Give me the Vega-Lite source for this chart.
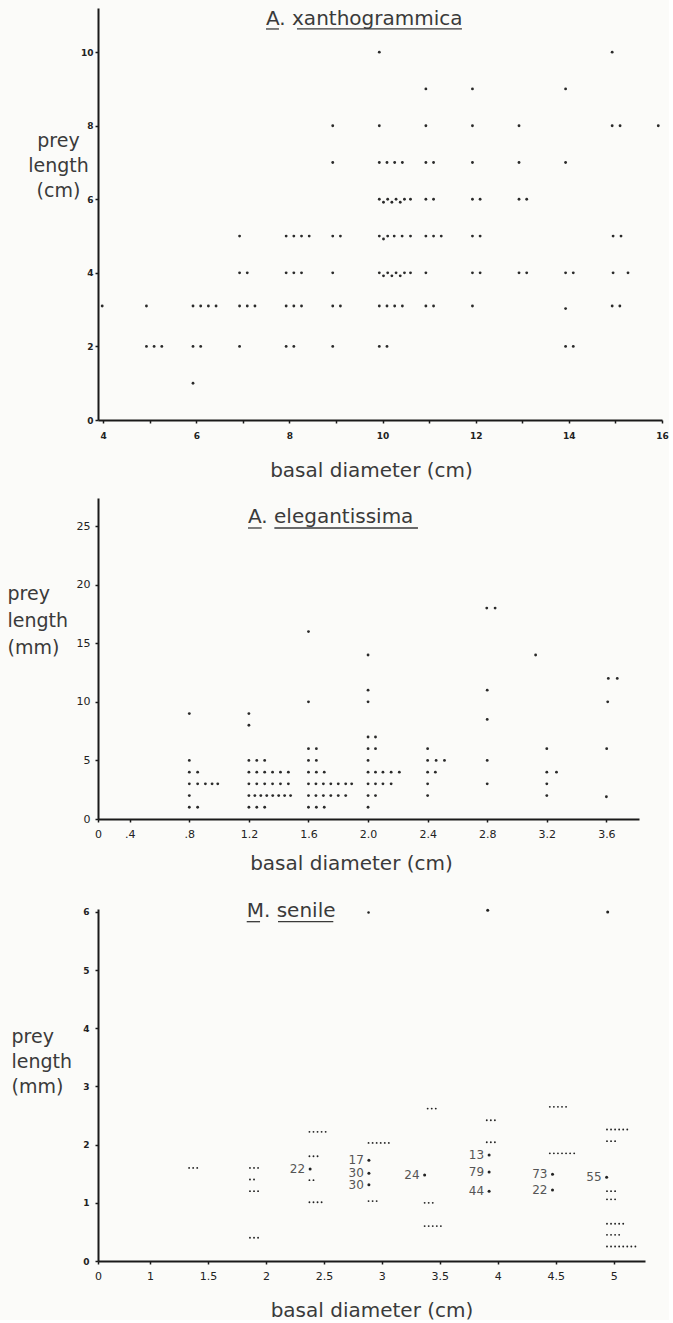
{
  "$schema": "https://vega.github.io/schema/vega-lite/v6.json",
  "background": "#fbfbf9",
  "padding": {"left": 7, "top": 8, "right": 0, "bottom": 0},
  "config": {
    "view": {"stroke": null},
    "axis": {"grid": false, "domainColor": "#1a1a1a", "domainWidth": 2, "tickColor": "#1a1a1a", "tickWidth": 1.5, "tickSize": 3, "labelFont": "DejaVu Sans", "titleFont": "DejaVu Sans", "labelColor": "#222222", "titleColor": "#3a3a3a", "titleFontWeight": "normal", "titleFontSize": 19, "labelFlush": false, "labelOverlap": false}
  },
  "datasets": {
    "p1": [
      {"d":9.93,"len":10},{"d":14.93,"len":10},
      {"d":10.93,"len":9},{"d":11.93,"len":9},{"d":13.93,"len":9},
      {"d":8.93,"len":8},{"d":9.93,"len":8},{"d":10.93,"len":8},{"d":11.93,"len":8},{"d":12.93,"len":8},{"d":14.93,"len":8},{"d":15.1,"len":8},{"d":15.92,"len":8},
      {"d":8.93,"len":7},{"d":9.93,"len":7},{"d":10.095,"len":7},{"d":10.26,"len":7},{"d":10.425,"len":7},{"d":10.93,"len":7},{"d":11.095,"len":7},{"d":11.93,"len":7},{"d":12.93,"len":7},{"d":13.93,"len":7},
      {"d":9.93,"len":6},{"d":10.02,"len":5.92},{"d":10.11,"len":6},{"d":10.2,"len":5.92},{"d":10.29,"len":6},{"d":10.38,"len":5.92},{"d":10.47,"len":6},{"d":10.6,"len":6},{"d":10.93,"len":6},{"d":11.095,"len":6},{"d":11.93,"len":6},{"d":12.095,"len":6},{"d":12.93,"len":6},{"d":13.095,"len":6},
      {"d":6.93,"len":5},{"d":7.93,"len":5},{"d":8.095,"len":5},{"d":8.26,"len":5},{"d":8.425,"len":5},{"d":8.93,"len":5},{"d":9.095,"len":5},{"d":9.93,"len":5},{"d":10.02,"len":4.92},{"d":10.11,"len":5},{"d":10.25,"len":5},{"d":10.42,"len":5},{"d":10.6,"len":5},{"d":10.93,"len":5},{"d":11.095,"len":5},{"d":11.26,"len":5},{"d":11.93,"len":5},{"d":12.095,"len":5},{"d":14.95,"len":5},{"d":15.12,"len":5},
      {"d":6.93,"len":4},{"d":7.095,"len":4},{"d":7.93,"len":4},{"d":8.095,"len":4},{"d":8.26,"len":4},{"d":8.93,"len":4},{"d":9.93,"len":4},{"d":10.02,"len":3.92},{"d":10.11,"len":4},{"d":10.2,"len":3.92},{"d":10.29,"len":4},{"d":10.38,"len":3.92},{"d":10.47,"len":4},{"d":10.6,"len":4},{"d":10.93,"len":4},{"d":11.93,"len":4},{"d":12.095,"len":4},{"d":12.93,"len":4},{"d":13.095,"len":4},{"d":13.93,"len":4},{"d":14.095,"len":4},{"d":14.95,"len":4},{"d":15.27,"len":4},
      {"d":3.98,"len":3.1},{"d":4.93,"len":3.1},{"d":5.93,"len":3.1},{"d":6.095,"len":3.1},{"d":6.26,"len":3.1},{"d":6.425,"len":3.1},{"d":6.93,"len":3.1},{"d":7.095,"len":3.1},{"d":7.26,"len":3.1},{"d":7.93,"len":3.1},{"d":8.095,"len":3.1},{"d":8.26,"len":3.1},{"d":8.93,"len":3.1},{"d":9.095,"len":3.1},{"d":9.93,"len":3.1},{"d":10.095,"len":3.1},{"d":10.26,"len":3.1},{"d":10.425,"len":3.1},{"d":10.93,"len":3.1},{"d":11.095,"len":3.1},{"d":11.93,"len":3.1},{"d":13.93,"len":3.03},{"d":14.93,"len":3.1},{"d":15.095,"len":3.1},
      {"d":4.93,"len":2},{"d":5.095,"len":2},{"d":5.26,"len":2},{"d":5.93,"len":2},{"d":6.095,"len":2},{"d":6.93,"len":2},{"d":7.93,"len":2},{"d":8.095,"len":2},{"d":8.93,"len":2},{"d":9.93,"len":2},{"d":10.095,"len":2},{"d":13.93,"len":2},{"d":14.095,"len":2},
      {"d":5.93,"len":1}
    ],
    "p2": [
      {"d":0.8,"len":9},{"d":0.8,"len":5},{"d":0.8,"len":4},{"d":0.856,"len":4},{"d":0.8,"len":3},{"d":0.856,"len":3},{"d":0.908,"len":3},{"d":0.953,"len":3},{"d":0.991,"len":3},{"d":0.8,"len":2},{"d":0.8,"len":1},{"d":0.856,"len":1},
      {"d":1.2,"len":9},{"d":1.2,"len":8},{"d":1.2,"len":5},{"d":1.253,"len":5},{"d":1.306,"len":5},
      {"d":1.2,"len":4},{"d":1.253,"len":4},{"d":1.306,"len":4},{"d":1.359,"len":4},{"d":1.412,"len":4},{"d":1.465,"len":4},
      {"d":1.2,"len":3},{"d":1.253,"len":3},{"d":1.306,"len":3},{"d":1.359,"len":3},{"d":1.412,"len":3},{"d":1.465,"len":3},
      {"d":1.2,"len":2},{"d":1.24,"len":2},{"d":1.28,"len":2},{"d":1.32,"len":2},{"d":1.36,"len":2},{"d":1.4,"len":2},{"d":1.44,"len":2},{"d":1.48,"len":2},
      {"d":1.2,"len":1},{"d":1.253,"len":1},{"d":1.306,"len":1},
      {"d":1.6,"len":16},{"d":1.6,"len":10},{"d":1.6,"len":6},{"d":1.653,"len":6},{"d":1.6,"len":5},{"d":1.653,"len":5},{"d":1.6,"len":4},{"d":1.653,"len":4},{"d":1.706,"len":4},
      {"d":1.6,"len":3},{"d":1.65,"len":3},{"d":1.7,"len":3},{"d":1.75,"len":3},{"d":1.8,"len":3},{"d":1.85,"len":3},{"d":1.89,"len":3},
      {"d":1.6,"len":2},{"d":1.65,"len":2},{"d":1.7,"len":2},{"d":1.75,"len":2},{"d":1.8,"len":2},{"d":1.85,"len":2},
      {"d":1.6,"len":1},{"d":1.653,"len":1},{"d":1.706,"len":1},
      {"d":2.0,"len":14},{"d":2.0,"len":11},{"d":2.0,"len":10},{"d":2.0,"len":7},{"d":2.05,"len":7},{"d":2.0,"len":6},{"d":2.05,"len":6},{"d":2.0,"len":5},
      {"d":2.0,"len":4},{"d":2.05,"len":4},{"d":2.1,"len":4},{"d":2.155,"len":4},{"d":2.21,"len":4},
      {"d":2.0,"len":3},{"d":2.05,"len":3},{"d":2.1,"len":3},{"d":2.155,"len":3},
      {"d":2.0,"len":2},{"d":2.05,"len":2},{"d":2.0,"len":1},
      {"d":2.4,"len":6},{"d":2.4,"len":5},{"d":2.457,"len":5},{"d":2.513,"len":5},{"d":2.4,"len":4},{"d":2.452,"len":4},{"d":2.4,"len":3},{"d":2.4,"len":2},
      {"d":2.797,"len":18},{"d":2.853,"len":18},{"d":2.8,"len":11},{"d":2.8,"len":8.5},{"d":2.8,"len":5},{"d":2.8,"len":3},
      {"d":3.125,"len":14},
      {"d":3.2,"len":6},{"d":3.2,"len":4},{"d":3.265,"len":4},{"d":3.2,"len":3},{"d":3.2,"len":2},
      {"d":3.613,"len":12},{"d":3.673,"len":12},{"d":3.609,"len":10},{"d":3.602,"len":6},{"d":3.6,"len":1.9}
    ],
    "p3": [
      {"d":1.337,"len":1.6,"kind":"dash"},{"d":1.372,"len":1.6,"kind":"dash"},{"d":1.407,"len":1.6,"kind":"dash"},
      {"d":1.862,"len":1.6,"kind":"dash"},{"d":1.897,"len":1.6,"kind":"dash"},{"d":1.932,"len":1.6,"kind":"dash"},
      {"d":1.862,"len":1.4,"kind":"dash"},{"d":1.897,"len":1.4,"kind":"dash"},
      {"d":1.862,"len":1.2,"kind":"dash"},{"d":1.897,"len":1.2,"kind":"dash"},{"d":1.932,"len":1.2,"kind":"dash"},
      {"d":1.862,"len":0.4,"kind":"dash"},{"d":1.897,"len":0.4,"kind":"dash"},{"d":1.932,"len":0.4,"kind":"dash"},
      {"d":2.375,"len":2.22,"kind":"dash"},{"d":2.41,"len":2.22,"kind":"dash"},{"d":2.445,"len":2.22,"kind":"dash"},{"d":2.48,"len":2.22,"kind":"dash"},{"d":2.515,"len":2.22,"kind":"dash"},
      {"d":2.375,"len":1.8,"kind":"dash"},{"d":2.41,"len":1.8,"kind":"dash"},{"d":2.445,"len":1.8,"kind":"dash"},
      {"d":2.381,"len":1.58,"kind":"count","n":"22"},
      {"d":2.375,"len":1.39,"kind":"dash"},{"d":2.41,"len":1.39,"kind":"dash"},
      {"d":2.375,"len":1.01,"kind":"dash"},{"d":2.41,"len":1.01,"kind":"dash"},{"d":2.445,"len":1.01,"kind":"dash"},{"d":2.48,"len":1.01,"kind":"dash"},
      {"d":2.885,"len":2.03,"kind":"dash"},{"d":2.92,"len":2.03,"kind":"dash"},{"d":2.955,"len":2.03,"kind":"dash"},{"d":2.99,"len":2.03,"kind":"dash"},{"d":3.025,"len":2.03,"kind":"dash"},{"d":3.06,"len":2.03,"kind":"dash"},
      {"d":2.888,"len":1.73,"kind":"count","n":"17"},{"d":2.888,"len":1.51,"kind":"count","n":"30"},{"d":2.888,"len":1.31,"kind":"count","n":"30"},
      {"d":2.885,"len":1.03,"kind":"dash"},{"d":2.92,"len":1.03,"kind":"dash"},{"d":2.955,"len":1.03,"kind":"dash"},
      {"d":2.885,"len":5.99,"kind":"dot"},
      {"d":3.395,"len":2.62,"kind":"dash"},{"d":3.43,"len":2.62,"kind":"dash"},{"d":3.465,"len":2.62,"kind":"dash"},
      {"d":3.369,"len":1.48,"kind":"count","n":"24"},
      {"d":3.369,"len":1.0,"kind":"dash"},{"d":3.404,"len":1.0,"kind":"dash"},{"d":3.439,"len":1.0,"kind":"dash"},
      {"d":3.369,"len":0.6,"kind":"dash"},{"d":3.404,"len":0.6,"kind":"dash"},{"d":3.439,"len":0.6,"kind":"dash"},{"d":3.474,"len":0.6,"kind":"dash"},{"d":3.509,"len":0.6,"kind":"dash"},
      {"d":3.905,"len":2.42,"kind":"dash"},{"d":3.94,"len":2.42,"kind":"dash"},{"d":3.975,"len":2.42,"kind":"dash"},
      {"d":3.905,"len":2.04,"kind":"dash"},{"d":3.94,"len":2.04,"kind":"dash"},{"d":3.975,"len":2.04,"kind":"dash"},
      {"d":3.925,"len":1.82,"kind":"count","n":"13"},{"d":3.925,"len":1.53,"kind":"count","n":"79"},{"d":3.925,"len":1.2,"kind":"count","n":"44"},
      {"d":3.913,"len":6.03,"kind":"count"},
      {"d":4.449,"len":2.65,"kind":"dash"},{"d":4.484,"len":2.65,"kind":"dash"},{"d":4.519,"len":2.65,"kind":"dash"},{"d":4.554,"len":2.65,"kind":"dash"},{"d":4.589,"len":2.65,"kind":"dash"},
      {"d":4.449,"len":1.85,"kind":"dash"},{"d":4.484,"len":1.85,"kind":"dash"},{"d":4.519,"len":1.85,"kind":"dash"},{"d":4.554,"len":1.85,"kind":"dash"},{"d":4.589,"len":1.85,"kind":"dash"},{"d":4.624,"len":1.85,"kind":"dash"},{"d":4.659,"len":1.85,"kind":"dash"},
      {"d":4.472,"len":1.49,"kind":"count","n":"73"},{"d":4.472,"len":1.22,"kind":"count","n":"22"},
      {"d":4.942,"len":2.26,"kind":"dash"},{"d":4.977,"len":2.26,"kind":"dash"},{"d":5.012,"len":2.26,"kind":"dash"},{"d":5.047,"len":2.26,"kind":"dash"},{"d":5.082,"len":2.26,"kind":"dash"},{"d":5.117,"len":2.26,"kind":"dash"},
      {"d":4.942,"len":2.06,"kind":"dash"},{"d":4.977,"len":2.06,"kind":"dash"},{"d":5.012,"len":2.06,"kind":"dash"},
      {"d":4.939,"len":1.44,"kind":"count","n":"55"},
      {"d":4.942,"len":1.2,"kind":"dash"},{"d":4.977,"len":1.2,"kind":"dash"},{"d":5.012,"len":1.2,"kind":"dash"},
      {"d":4.942,"len":1.06,"kind":"dash"},{"d":4.977,"len":1.06,"kind":"dash"},{"d":5.012,"len":1.06,"kind":"dash"},
      {"d":4.942,"len":0.64,"kind":"dash"},{"d":4.977,"len":0.64,"kind":"dash"},{"d":5.012,"len":0.64,"kind":"dash"},{"d":5.047,"len":0.64,"kind":"dash"},{"d":5.082,"len":0.64,"kind":"dash"},
      {"d":4.942,"len":0.45,"kind":"dash"},{"d":4.977,"len":0.45,"kind":"dash"},{"d":5.012,"len":0.45,"kind":"dash"},{"d":5.047,"len":0.45,"kind":"dash"},
      {"d":4.942,"len":0.25,"kind":"dash"},{"d":4.977,"len":0.25,"kind":"dash"},{"d":5.012,"len":0.25,"kind":"dash"},{"d":5.047,"len":0.25,"kind":"dash"},{"d":5.082,"len":0.25,"kind":"dash"},{"d":5.117,"len":0.25,"kind":"dash"},{"d":5.152,"len":0.25,"kind":"dash"},{"d":5.187,"len":0.25,"kind":"dash"},
      {"d":4.948,"len":6.0,"kind":"count"}
    ]
  },
  "spacing": 27,
  "vconcat": [
    {
      "spacing": 18,
      "vconcat": [
        {
          "width": 564,
          "height": 412,
          "layer": [
            {
              "data": {"name": "p1"},
              "mark": {"type": "circle", "size": 8, "color": "#2a2a2a", "opacity": 1},
              "encoding": {
                "x": {"field": "d", "type": "quantitative", "scale": {"domain": [3.89, 16], "nice": false, "zero": false},
                  "axis": {"title": "basal  diameter  (cm)", "values": [4,5,6,7,8,9,10,11,12,13,14,15,16], "labelExpr": "datum.value % 2 == 0 ? datum.label : ''", "labelFontSize": 9, "labelFontWeight": "bold", "labelPadding": 8, "titleFontSize": 20, "titlePadding": 20, "titleX": 273}},
                "y": {"field": "len", "type": "quantitative", "scale": {"domain": [0, 11.2], "nice": false},
                  "axis": {"title": ["prey", "length", "(cm)"], "values": [0,1,2,3,4,5,6,7,8,9,10,11], "labelExpr": "datum.value % 2 == 0 ? datum.label : ''", "labelFontSize": 9, "labelFontWeight": "bold", "labelPadding": 2, "titleAngle": 0, "titleAlign": "center", "titleBaseline": "alphabetic", "titleX": -40, "titleY": 138, "titleLineHeight": 25}}
              }
            },
            {
              "data": {"values": [{}]},
              "mark": {"type": "text", "text": "A. xanthogrammica", "align": "left", "baseline": "alphabetic", "font": "DejaVu Sans", "fontSize": 20, "color": "#3a3a3a"},
              "encoding": {"x": {"datum": 7.497, "type": "quantitative"}, "y": {"datum": 10.74, "type": "quantitative"}}
            },
            {
              "data": {"values": [{}]},
              "mark": {"type": "rule", "color": "#3a3a3a", "strokeWidth": 1.3},
              "encoding": {"x": {"datum": 7.497, "type": "quantitative"}, "x2": {"datum": 7.776}, "y": {"datum": 10.63, "type": "quantitative"}}
            },
            {
              "data": {"values": [{}]},
              "mark": {"type": "rule", "color": "#3a3a3a", "strokeWidth": 1.3},
              "encoding": {"x": {"datum": 8.162, "type": "quantitative"}, "x2": {"datum": 11.704}, "y": {"datum": 10.63, "type": "quantitative"}}
            }
          ]
        },
        {
          "width": 541,
          "height": 321,
          "layer": [
            {
              "data": {"name": "p2"},
              "mark": {"type": "circle", "size": 8, "color": "#2a2a2a", "opacity": 1},
              "encoding": {
                "x": {"field": "d", "type": "quantitative", "scale": {"domain": [0.187, 3.819], "nice": false, "zero": false},
                  "axis": {"title": "basal  diameter  (cm)", "values": [0.187,0.4,0.8,1.2,1.6,2.0,2.4,2.8,3.2,3.6], "labelExpr": "datum.value < 0.3 ? '0' : datum.value < 1 ? '.' + format(datum.value * 10, '.0f') : format(datum.value, '.1f')", "labelFontSize": 11, "labelPadding": 6, "titleFontSize": 20, "titlePadding": 14, "titleX": 253}},
                "y": {"field": "len", "type": "quantitative", "scale": {"domain": [0, 27.4], "nice": false},
                  "axis": {"title": ["prey", "length", "(mm)"], "values": [0,5,10,15,20,25], "labelFontSize": 11, "labelPadding": 5, "titleAngle": 0, "titleAlign": "left", "titleBaseline": "alphabetic", "titleX": -91, "titleY": 101, "titleLineHeight": 27}}
              }
            },
            {
              "data": {"values": [{}]},
              "mark": {"type": "text", "text": "A. elegantissima", "align": "left", "baseline": "alphabetic", "font": "DejaVu Sans", "fontSize": 20, "color": "#3a3a3a"},
              "encoding": {"x": {"datum": 1.194, "type": "quantitative"}, "y": {"datum": 25.27, "type": "quantitative"}}
            },
            {
              "data": {"values": [{}]},
              "mark": {"type": "rule", "color": "#3a3a3a", "strokeWidth": 1.3},
              "encoding": {"x": {"datum": 1.194, "type": "quantitative"}, "x2": {"datum": 1.286}, "y": {"datum": 24.84, "type": "quantitative"}}
            },
            {
              "data": {"values": [{}]},
              "mark": {"type": "rule", "color": "#3a3a3a", "strokeWidth": 1.3},
              "encoding": {"x": {"datum": 1.371, "type": "quantitative"}, "x2": {"datum": 2.335}, "y": {"datum": 24.84, "type": "quantitative"}}
            }
          ]
        }
      ]
    },
    {
      "width": 547,
      "height": 352,
      "layer": [
        {
          "data": {"name": "p3"},
          "mark": {"type": "circle", "color": "#222222", "opacity": 1},
          "encoding": {
            "x": {"field": "d", "type": "quantitative", "scale": {"domain": [0.551, 5.27], "nice": false, "zero": false},
              "axis": {"title": "basal  diameter  (cm)", "values": [0.551,1,1.5,2,2.5,3,3.5,4,4.5,5], "labelExpr": "datum.value < 0.7 ? '0' : format(datum.value, '~g')", "labelFontSize": 11, "labelPadding": 6, "titleFontSize": 20, "titlePadding": 19}},
            "y": {"field": "len", "type": "quantitative", "scale": {"domain": [0, 6.05], "nice": false},
              "axis": {"title": ["prey", "length", "(mm)"], "values": [0,1,2,3,4,5,6], "format": "d", "labelFontSize": 9, "labelFontWeight": "bold", "labelPadding": 6, "titleAngle": 0, "titleAlign": "left", "titleBaseline": "alphabetic", "titleX": -87, "titleY": 133, "titleLineHeight": 25}},
            "size": {"field": "kind", "type": "nominal", "scale": {"domain": ["dash", "dot", "count"], "range": [3.5, 9, 20]}, "legend": null}
          }
        },
        {
          "data": {"name": "p3"},
          "transform": [{"filter": "isValid(datum.n)"}],
          "mark": {"type": "text", "align": "right", "baseline": "middle", "dx": -5, "font": "DejaVu Sans", "fontSize": 12, "color": "#555555"},
          "encoding": {
            "x": {"field": "d", "type": "quantitative"},
            "y": {"field": "len", "type": "quantitative"},
            "text": {"field": "n"}
          }
        },
        {
          "data": {"values": [{}]},
          "mark": {"type": "text", "text": "M. senile", "align": "left", "baseline": "alphabetic", "font": "DejaVu Sans", "fontSize": 20, "color": "#3a3a3a"},
          "encoding": {"x": {"datum": 1.834, "type": "quantitative"}, "y": {"datum": 5.913, "type": "quantitative"}}
        },
        {
          "data": {"values": [{}]},
          "mark": {"type": "rule", "color": "#3a3a3a", "strokeWidth": 1.3},
          "encoding": {"x": {"datum": 1.834, "type": "quantitative"}, "x2": {"datum": 1.949}, "y": {"datum": 5.832, "type": "quantitative"}}
        },
        {
          "data": {"values": [{}]},
          "mark": {"type": "rule", "color": "#3a3a3a", "strokeWidth": 1.3},
          "encoding": {"x": {"datum": 2.104, "type": "quantitative"}, "x2": {"datum": 2.581}, "y": {"datum": 5.832, "type": "quantitative"}}
        }
      ]
    }
  ]
}
